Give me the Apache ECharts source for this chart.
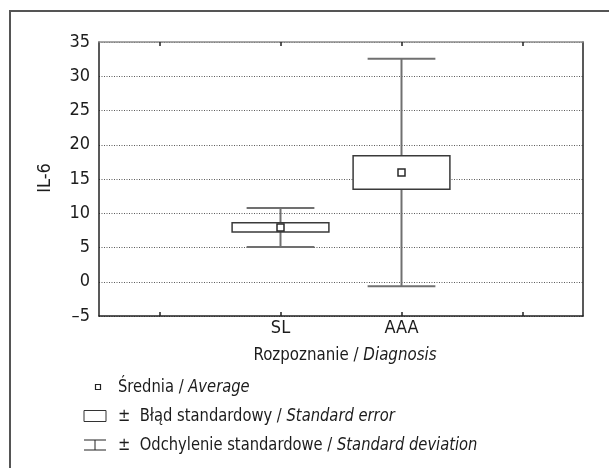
<!DOCTYPE html>
<html>
<head>
<meta charset="utf-8">
<script src="https://cdn.jsdelivr.net/npm/echarts@6/dist/echarts.min.js"></script>
<style>
  html, body { margin: 0; padding: 0; background: #fff; }
  #chart { width: 609px; height: 468px; }
</style>
</head>
<body>
<div id="chart"></div>
<script>
// IL-6 by diagnosis: mean, ± standard error (box), ± standard deviation (whiskers)
const categories = ['', 'SL', 'AAA', ''];
const groups = ['SL', 'AAA'];
const means = [7.93, 15.95];
const stdErrors = [0.68, 2.45];
const stdDevs = [2.85, 16.6];
const yTicks = { min: -5, max: 35, step: 5 };

const FONT = '"Liberation Sans Narrow", "DejaVu Sans Condensed", "Arial Narrow", sans-serif';
const TEXT = '#1c1c1c';

const chart = echarts.init(document.getElementById('chart'), null, { renderer: 'canvas' });

const seriesData = groups.map((g, i) => [g, means[i], stdErrors[i], stdDevs[i]]);

function renderStat(params, api) {
  const xi = api.value(0);
  const m = api.value(1);
  const se = api.value(2);
  const sd = api.value(3);
  const band = api.size([1, 0])[0];
  const cx = api.coord([xi, m])[0];
  const yMean = api.coord([xi, m])[1];
  const ySdHi = api.coord([xi, m + sd])[1];
  const ySdLo = api.coord([xi, m - sd])[1];
  const ySeHi = api.coord([xi, m + se])[1];
  const ySeLo = api.coord([xi, m - se])[1];
  const boxW = band * 0.8;
  const capW = band * 0.56;
  const whisker = { stroke: '#707070', lineWidth: 2 };
  return {
    type: 'group',
    children: [
      { type: 'line', shape: { x1: cx, y1: ySdHi, x2: cx, y2: ySdLo }, style: whisker },
      { type: 'line', shape: { x1: cx - capW / 2, y1: ySdHi, x2: cx + capW / 2, y2: ySdHi }, style: whisker },
      { type: 'line', shape: { x1: cx - capW / 2, y1: ySdLo, x2: cx + capW / 2, y2: ySdLo }, style: whisker },
      { type: 'rect', shape: { x: cx - boxW / 2, y: ySeHi, width: boxW, height: ySeLo - ySeHi },
        style: { fill: '#fff', stroke: '#3a3a3a', lineWidth: 1.5 } },
      { type: 'rect', shape: { x: cx - 3.5, y: yMean - 3.5, width: 7, height: 7 },
        style: { fill: '#fff', stroke: '#2a2a2a', lineWidth: 1.5 } }
    ]
  };
}

const legendRows = [
  { y: 387, text: '{n|Średnia / }{i|Average}' },
  { y: 416, text: '{n|±  Błąd standardowy / }{i|Standard error}' },
  { y: 445, text: '{n|±  Odchylenie standardowe / }{i|Standard deviation}' }
];
const richStyle = {
  n: { fontFamily: FONT, fontSize: 18, fill: TEXT, color: TEXT },
  i: { fontFamily: FONT, fontSize: 18, fontStyle: 'italic', fill: TEXT, color: TEXT }
};

const tickStyle = { show: true, inside: true, length: 4, alignWithLabel: true, lineStyle: { color: '#222', width: 1.5 } };

const option = {
  animation: false,
  backgroundColor: '#fff',
  grid: { left: 99, right: 26, top: 42, bottom: 152 },
  xAxis: [
    {
      type: 'category', data: categories, position: 'bottom',
      axisLine: { onZero: false, lineStyle: { color: '#222', width: 1.5 } },
      axisTick: tickStyle,
      axisLabel: { color: TEXT, fontFamily: FONT, fontSize: 18, margin: 3, interval: 0 }
    },
    {
      type: 'category', data: categories, position: 'top',
      axisLine: { onZero: false, lineStyle: { color: '#8c8c8c', width: 1.5 } },
      axisTick: tickStyle,
      axisLabel: { show: false }
    }
  ],
  yAxis: [
    {
      type: 'value', min: yTicks.min, max: yTicks.max, interval: yTicks.step, position: 'left',
      axisLine: { show: true, onZero: false, lineStyle: { color: '#222', width: 1.5 } },
      axisTick: { show: false },
      axisLabel: {
        color: TEXT, fontFamily: FONT, fontSize: 18, margin: 9,
        formatter: v => String(v).replace('-', '–')
      },
      splitLine: { show: true, lineStyle: { color: '#5a5a5a', width: 1, type: [1, 1.5] } }
    },
    {
      type: 'value', min: yTicks.min, max: yTicks.max, interval: yTicks.step, position: 'right',
      axisLine: { show: true, onZero: false, lineStyle: { color: '#222', width: 1.5 } },
      axisTick: { show: false }, axisLabel: { show: false }, splitLine: { show: false }
    }
  ],
  series: [{
    type: 'custom',
    xAxisIndex: 0, yAxisIndex: 0,
    renderItem: renderStat,
    encode: { x: 0, y: 1 },
    data: seriesData,
    z: 5
  }],
  graphic: [
    // outer frame (top and left edges)
    { type: 'polyline', shape: { points: [[10, 468], [10, 11], [609, 11]] },
      style: { stroke: '#555', lineWidth: 2, fill: null } },
    // axis titles
    { type: 'text', x: 45, y: 178, rotation: Math.PI / 2,
      style: { text: 'IL-6', font: '18px ' + FONT, fill: TEXT, align: 'center', verticalAlign: 'middle' } },
    { type: 'text', x: 345, y: 355, scaleX: 0.93,
      style: { text: '{n|Rozpoznanie / }{i|Diagnosis}', rich: richStyle, align: 'center', verticalAlign: 'middle' } },
    // legend icons
    { type: 'rect', shape: { x: 95.5, y: legendRows[0].y - 2.5, width: 5, height: 5 },
      style: { fill: '#fff', stroke: '#222', lineWidth: 1.2 } },
    { type: 'rect', shape: { x: 84, y: legendRows[1].y - 5.5, width: 22, height: 11 },
      style: { fill: '#fff', stroke: '#333', lineWidth: 1 } },
    { type: 'polyline', shape: { points: [[84, legendRows[2].y - 5], [106, legendRows[2].y - 5]] },
      style: { stroke: '#222', lineWidth: 1 } },
    { type: 'polyline', shape: { points: [[95, legendRows[2].y - 5], [95, legendRows[2].y + 5]] },
      style: { stroke: '#222', lineWidth: 1 } },
    { type: 'polyline', shape: { points: [[84, legendRows[2].y + 5], [106, legendRows[2].y + 5]] },
      style: { stroke: '#222', lineWidth: 1 } }
  ].concat(legendRows.map(r => ({
    type: 'text', x: 118, y: r.y, scaleX: 0.91,
    style: { text: r.text, rich: richStyle, align: 'left', verticalAlign: 'middle' }
  })))
};

chart.setOption(option);
</script>
</body>
</html>
